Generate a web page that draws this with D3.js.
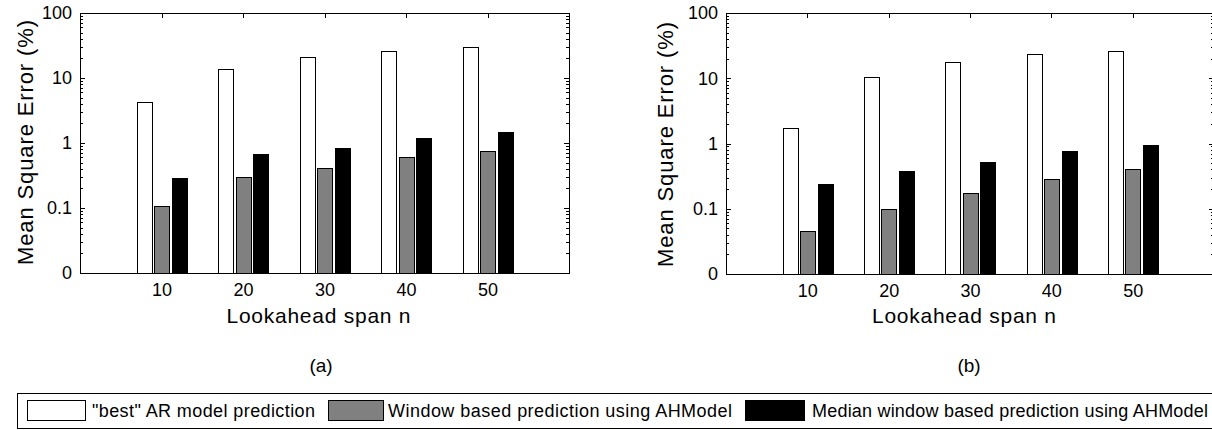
<!DOCTYPE html>
<html>
<head>
<meta charset="utf-8">
<script src="https://cdn.jsdelivr.net/npm/d3@7"></script>
<style>
  body { margin: 0; background: #fff; }
  text { font-family: "Liberation Sans", Arial, sans-serif; fill: #000; }
</style>
</head>
<body>
<script>
// data
let categories = [10, 20, 30, 40, 50];
let seriesNames = ["\"best\" AR model prediction", "Window based prediction using AHModel", "Median window based prediction using AHModel"];
let seriesFills = ["#ffffff", "#808080", "#000000"];

let arValuesA = [4.2, 13.8, 21, 26.3, 29.6];
let windowValuesA = [0.108, 0.30, 0.417, 0.61, 0.75];
let medianValuesA = [0.286, 0.68, 0.85, 1.18, 1.46];

let arValuesB = [1.72, 10.6, 18.0, 23.9, 26.6];
let windowValuesB = [0.045, 0.099, 0.173, 0.29, 0.40];
let medianValuesB = [0.24, 0.385, 0.527, 0.78, 0.96];

let yTickValues = [0.01, 0.1, 1, 10, 100];
let yTickLabels = ["0", "0.1", "1", "10", "100"];
let xDomain = [0, 60];

let svg = d3.select("body").append("svg")
	.attr("width", 1212)
	.attr("height", 430);

//minor log ticks 2..9 in each decade
let minorTicks = [];
yTickValues.slice(0, -1).forEach(d => {
	for (let k = 2; k <= 9; k++) minorTicks.push(d * k);
});

function drawPanel(p) {
	let x = d3.scaleLinear().domain(xDomain).range([p.left, p.right]);
	let y = d3.scaleLog().domain([yTickValues[0], yTickValues[yTickValues.length - 1]]).range([p.bottom, p.top]);

	let g = svg.append("g");

	//bottom axis with labels, ticks point up
	let xb = g.append("g")
		.attr("transform", `translate(0,${p.bottom})`)
		.call(d3.axisBottom(x).tickValues(categories).tickSizeInner(-5).tickSizeOuter(0).tickPadding(10));
	xb.selectAll("text").attr("font-size", 18).attr("font-family", null);

	//top axis, ticks only
	g.append("g")
		.attr("transform", `translate(0,${p.top})`)
		.call(d3.axisTop(x).tickValues(categories).tickSizeInner(-5).tickSizeOuter(0).tickFormat(""));

	//left axis
	let yl = g.append("g")
		.attr("transform", `translate(${p.left},0)`)
		.call(d3.axisLeft(y).tickValues(yTickValues).tickSizeInner(-5).tickSizeOuter(0).tickPadding(8)
			.tickFormat((d, i) => yTickLabels[i]));
	yl.selectAll("text").attr("font-size", 18).attr("font-family", null);
	g.append("g")
		.attr("transform", `translate(${p.left},0)`)
		.call(d3.axisLeft(y).tickValues(minorTicks).tickSizeInner(-3).tickSizeOuter(0).tickFormat(""))
		.select(".domain").remove();

	//right axis
	g.append("g")
		.attr("transform", `translate(${p.right},0)`)
		.call(d3.axisRight(y).tickValues(yTickValues).tickSizeInner(-5).tickSizeOuter(0).tickFormat(""));
	g.append("g")
		.attr("transform", `translate(${p.right},0)`)
		.call(d3.axisRight(y).tickValues(minorTicks).tickSizeInner(-3).tickSizeOuter(0).tickFormat(""))
		.select(".domain").remove();

	g.selectAll(".domain, .tick line").attr("stroke", "#000").attr("shape-rendering", "crispEdges");
	g.selectAll(".tick text").attr("fill", "#000");

	//bars
	let band = d3.scaleBand().domain(d3.range(3)).range([-26.25, 26.25]).paddingInner(0.17).paddingOuter(0.085);
	let rows = [];
	p.series.forEach((vals, s) => {
		vals.forEach((v, i) => rows.push({ s: s, cat: categories[i], v: v }));
	});
	g.selectAll("rect.bar").data(rows).enter().append("rect")
		.attr("class", "bar")
		.attr("x", d => Math.round(x(d.cat) + band(d.s)) + 0.5)
		.attr("y", d => Math.round(y(d.v)) + 0.5)
		.attr("width", Math.round(band.bandwidth()))
		.attr("height", d => Math.round(y(yTickValues[0])) - Math.round(y(d.v)))
		.attr("fill", d => seriesFills[d.s])
		.attr("stroke", "#000")
		.attr("stroke-width", 1);

	//axis labels
	svg.append("text")
		.attr("x", (p.left + p.right) / 2 - 6)
		.attr("y", 323)
		.attr("text-anchor", "middle")
		.attr("font-size", 21)
		.attr("textLength", 184)
		.attr("lengthAdjust", "spacing")
		.text("Lookahead span n");

	svg.append("text")
		.attr("transform", `translate(${p.ylabelX},${p.ylabelY}) rotate(-90)`)
		.attr("text-anchor", "middle")
		.attr("font-size", 22)
		.attr("textLength", 245)
		.attr("lengthAdjust", "spacing")
		.text("Mean Square Error (%)");

	svg.append("text")
		.attr("x", p.captionX)
		.attr("y", 372)
		.attr("text-anchor", "middle")
		.attr("font-size", 19)
		.text(p.caption);
}

drawPanel({ left: 80, right: 569, top: 13, bottom: 273, ylabelX: 33, ylabelY: 142.5, captionX: 321, caption: "(a)",
	series: [arValuesA, windowValuesA, medianValuesA] });
drawPanel({ left: 726, right: 1214, top: 13, bottom: 274, ylabelX: 673, ylabelY: 144.5, captionX: 969, caption: "(b)",
	series: [arValuesB, windowValuesB, medianValuesB] });

//legend
let legend = svg.append("g");
legend.append("rect")
	.attr("x", 17.5).attr("y", 393.5)
	.attr("width", 1220).attr("height", 35)
	.attr("fill", "#fff").attr("stroke", "#000");

let legendItems = [
	{ sx: 27, sw: 58, tx: 92, tw: 223 },
	{ sx: 328, sw: 55, tx: 388, tw: 344 },
	{ sx: 745, sw: 59, tx: 812, tw: 396 }
];
legendItems.forEach((it, i) => {
	legend.append("rect")
		.attr("x", it.sx + 0.5).attr("y", 400.5)
		.attr("width", it.sw).attr("height", 20)
		.attr("fill", seriesFills[i]).attr("stroke", "#000");
	legend.append("text")
		.attr("x", it.tx).attr("y", 417)
		.attr("font-size", 18)
		.attr("textLength", it.tw)
		.attr("lengthAdjust", "spacing")
		.text(seriesNames[i]);
});
</script>
</body>
</html>
